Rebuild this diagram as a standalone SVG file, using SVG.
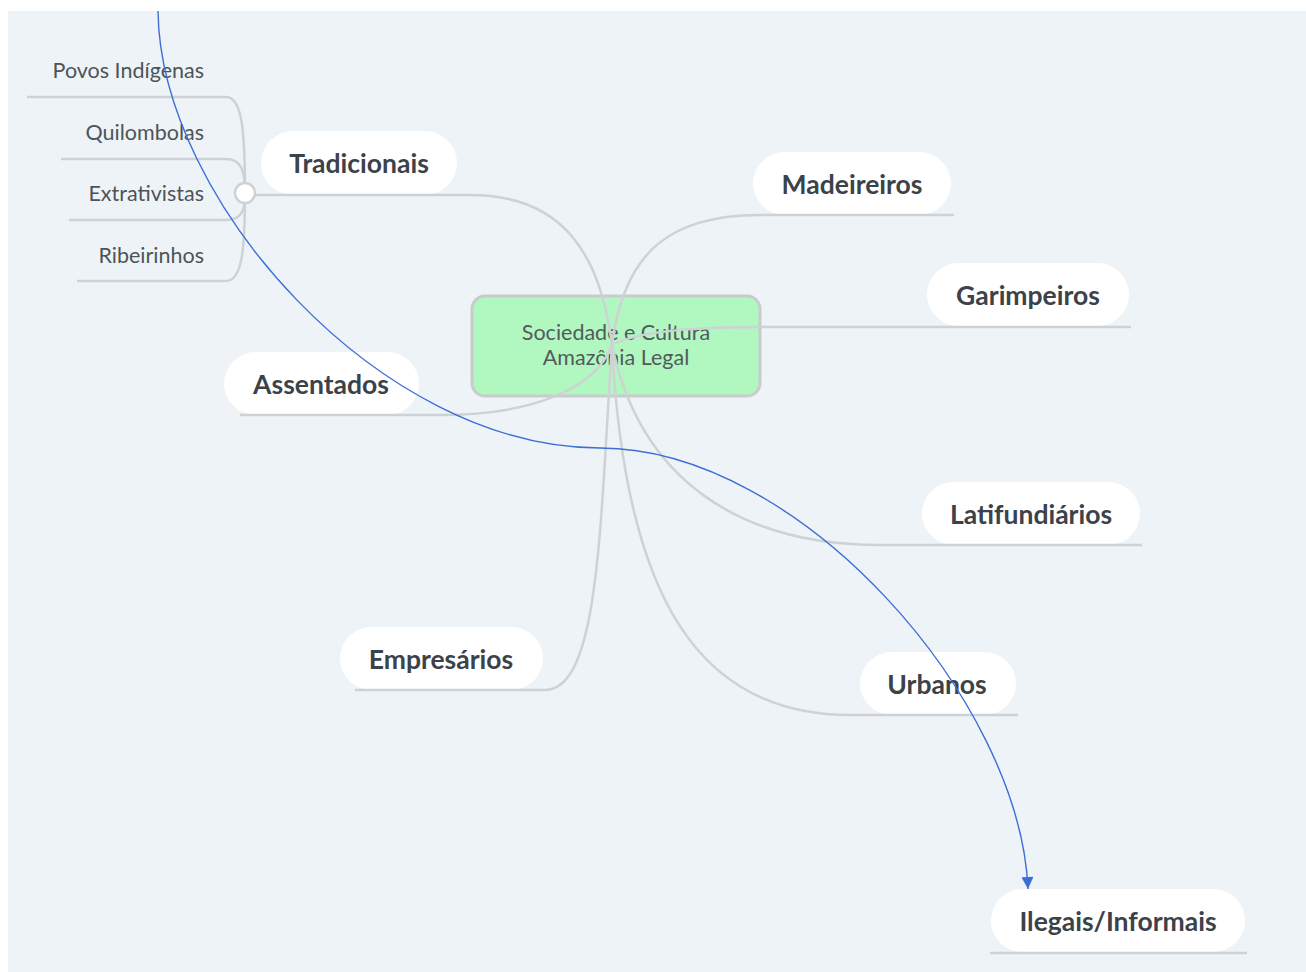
<svg xmlns="http://www.w3.org/2000/svg" width="1306" height="972" viewBox="0 0 1306 972">
  <style>
    .br { fill: none; stroke: #cfd2d5; stroke-width: 2.5; }
    .pill { fill: #ffffff; }
    .main { font-family: Lato, "Noto Sans", sans-serif; font-weight: bold; font-size: 26.5px; fill: #3b4249; text-anchor: middle; }
    .sub { font-family: Lato, "Noto Sans", sans-serif; font-size: 21.5px; fill: #4d5358; text-anchor: end; }
    .central { font-family: Lato, "Noto Sans", sans-serif; font-size: 21.5px; fill: #525a5f; text-anchor: middle; }
  </style>
  <defs>
    <marker id="arr" viewBox="0 0 10 10" refX="10" refY="5" markerWidth="13" markerHeight="12" markerUnits="userSpaceOnUse" orient="auto">
      <path d="M0,0 L10,5 L0,10 Z" fill="#3c6fd6"/>
    </marker>
  </defs>
  <rect x="0" y="0" width="1306" height="972" fill="#ffffff"/>
  <rect x="8" y="11" width="1298" height="961" fill="#eef3f7"/>

  <g id="central">
    <rect x="472" y="296" width="288" height="100" rx="13" fill="#b0f7c0" stroke="#c9cbcc" stroke-width="3"/>
    <text class="central" x="616" y="340">Sociedade e Cultura</text>
    <text class="central" x="616" y="365">Amazônia Legal</text>
  </g>

  <g id="tradicionais">
    <rect class="pill" x="261" y="131" width="196" height="64" rx="32"/>
    <text class="main" x="359" y="173">Tradicionais</text>
  </g>
  <g id="povos"><text class="sub" x="204" y="78">Povos Indígenas</text></g>
  <g id="quilombolas"><text class="sub" x="204" y="140">Quilombolas</text></g>
  <g id="extrativistas"><text class="sub" x="204" y="201">Extrativistas</text></g>
  <g id="ribeirinhos"><text class="sub" x="204" y="263">Ribeirinhos</text></g>

  <g id="madeireiros">
    <rect class="pill" x="753" y="152" width="198" height="63" rx="31.5"/>
    <text class="main" x="852" y="194">Madeireiros</text>
  </g>
  <g id="garimpeiros">
    <rect class="pill" x="927" y="263" width="202" height="63" rx="31.5"/>
    <text class="main" x="1028" y="305">Garimpeiros</text>
  </g>
  <g id="assentados">
    <rect class="pill" x="224" y="352" width="195" height="63" rx="31.5"/>
    <text class="main" x="321" y="394">Assentados</text>
  </g>
  <g id="latifundiarios">
    <rect class="pill" x="922" y="482" width="218" height="63" rx="31.5"/>
    <text class="main" x="1031" y="524">Latifundiários</text>
  </g>
  <g id="empresarios">
    <rect class="pill" x="340" y="627" width="203" height="63" rx="31.5"/>
    <text class="main" x="441" y="669">Empresários</text>
  </g>
  <g id="urbanos">
    <rect class="pill" x="860" y="652" width="156" height="63" rx="31.5"/>
    <text class="main" x="937" y="694">Urbanos</text>
  </g>
  <g id="ilegais">
    <rect class="pill" x="991" y="889" width="254" height="63" rx="31.5"/>
    <text class="main" x="1118" y="931">Ilegais/Informais</text>
  </g>

  <g id="connectors">
    <path class="br" d="M612,345 C600,250 560,195 470,195 L255,195"/>
    <path class="br" d="M612,345 C624,250 672,215 760,215 L954,215"/>
    <path class="br" d="M612,345 C640,330 700,327 770,327 L1131,327"/>
    <path class="br" d="M612,345 C595,390 530,415 440,415 L240,415"/>
    <path class="br" d="M612,345 C640,480 740,545 880,545 L1142,545"/>
    <path class="br" d="M612,345 C625,600 700,715 850,715 L1018,715"/>
    <path class="br" d="M612,345 C600,520 600,690 545,690 L355,690"/>
    <path class="br" d="M990,953 L1247,953"/>
    <path class="br" d="M245,193 C245,130 242,97 226,97 L27,97"/>
    <path class="br" d="M245,193 C245,172 242,159 226,159 L61,159"/>
    <path class="br" d="M245,193 C245,210 242,220 226,220 L69,220"/>
    <path class="br" d="M245,193 C245,250 242,281 226,281 L77,281"/>
    <circle cx="245" cy="193" r="10" fill="#ffffff" stroke="#cfd2d5" stroke-width="2.5"/>
    <path d="M158,11 C160,200 380,448 600,448 C800,448 1020,700 1028,889" fill="none" stroke="#3c6fd6" stroke-width="1.4" marker-end="url(#arr)"/>
  </g>
</svg>
